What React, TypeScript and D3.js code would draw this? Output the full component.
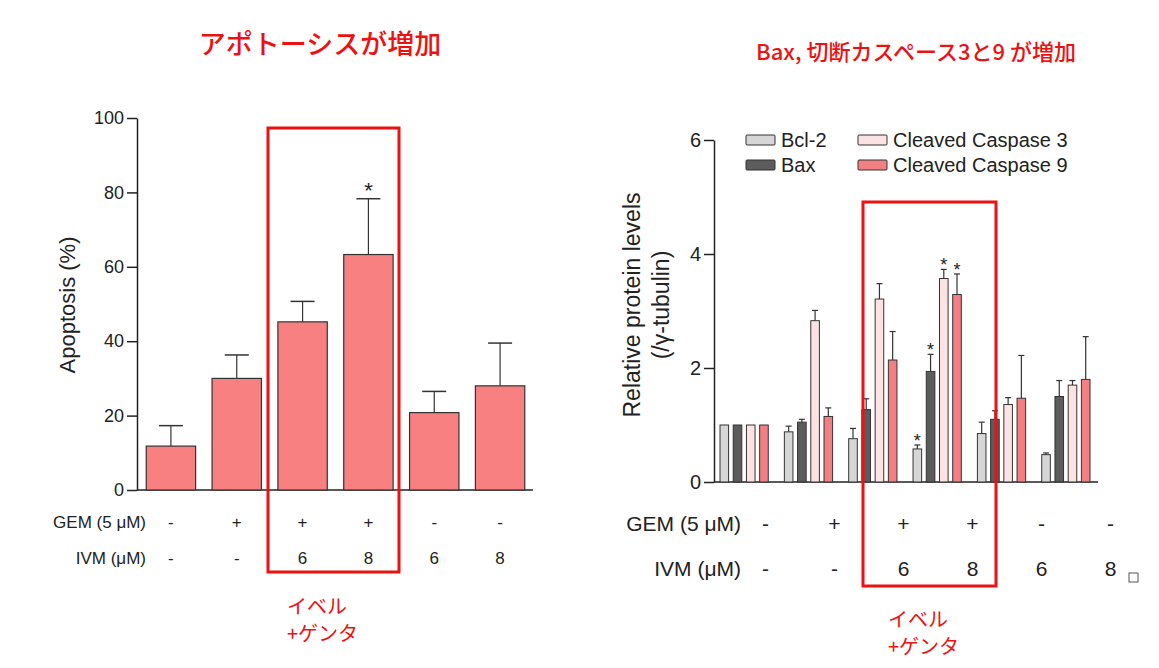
import { useEffect, useRef } from 'react';
import * as d3 from 'd3';

// Left panel: apoptosis
const apoGroups = ['g1', 'g2', 'g3', 'g4', 'g5', 'g6'];
const apoValues = [11.8, 30, 45.2, 63.3, 20.8, 28];
const apoErrors = [5.5, 6.3, 5.5, 15, 5.7, 11.5];
const apoStars = [false, false, false, true, false, false];
const gemLabels = ['-', '+', '+', '+', '-', '-'];
const ivmLabels = ['-', '-', '6', '8', '6', '8'];

// Right panel: protein levels
const proteins = ['Bcl-2', 'Bax', 'Cleaved Caspase 3', 'Cleaved Caspase 9'];
const proteinColors = ['#d6d6d6', '#5c5c5c', '#fde2e4', '#f27f82'];
const bcl2 = [1, 0.88, 0.76, 0.58, 0.85, 0.48];
const bax = [1, 1.05, 1.27, 1.94, 1.1, 1.5];
const cc3 = [1, 2.83, 3.21, 3.57, 1.36, 1.7];
const cc9 = [1, 1.15, 2.14, 3.29, 1.47, 1.8];
const bcl2Err = [0, 0.1, 0.18, 0.07, 0.2, 0.03];
const baxErr = [0, 0.05, 0.19, 0.3, 0.15, 0.28];
const cc3Err = [0, 0.18, 0.27, 0.16, 0.12, 0.08];
const cc9Err = [0, 0.15, 0.5, 0.36, 0.75, 0.75];
const proteinStars = [
    [false, false, false, true, false, false],
    [false, false, false, true, false, false],
    [false, false, false, true, false, false],
    [false, false, false, true, false, false],
];

const FONT = 'Liberation Sans, Arial, sans-serif';
const JP = '"Noto Sans CJK JP", sans-serif';

export default function App() {
    const svgRef = useRef<SVGSVGElement>(null);

    useEffect(() => {
        if (!svgRef.current) return;
        const svg = d3.select(svgRef.current);
        svg.selectAll('*').remove();

        // ---------- Left chart ----------
        const ly = d3.scaleLinear().domain([0, 100]).range([490, 118]);
        const lx = d3.scaleBand().domain(apoGroups).range([138, 533]).paddingInner(0.25).paddingOuter(0.125);
        const left = svg.append('g');

        const lAxis = left.append('g').attr('transform', 'translate(137,0)')
            .call(d3.axisLeft(ly).tickValues([0, 20, 40, 60, 80, 100]).tickSize(10).tickSizeOuter(0));
        lAxis.select('.domain').attr('stroke', '#222').attr('stroke-width', 1.5);
        lAxis.selectAll('line').attr('stroke', '#222').attr('stroke-width', 1.5);
        lAxis.selectAll('text').attr('font-size', 18).attr('font-family', FONT).attr('fill', '#222');
        left.append('line').attr('x1', 137).attr('x2', 533).attr('y1', 490).attr('y2', 490).attr('stroke', '#222').attr('stroke-width', 1.5);

        apoGroups.forEach((g, i) => {
            const x = lx(g)!;
            const w = lx.bandwidth();
            const cx = x + w / 2;
            left.append('line').attr('x1', cx).attr('x2', cx).attr('y1', ly(apoValues[i])).attr('y2', ly(apoValues[i] + apoErrors[i])).attr('stroke', '#333').attr('stroke-width', 1.2);
            left.append('line').attr('x1', cx - 12).attr('x2', cx + 12).attr('y1', ly(apoValues[i] + apoErrors[i])).attr('y2', ly(apoValues[i] + apoErrors[i])).attr('stroke', '#333').attr('stroke-width', 1.5);
            left.append('rect').attr('x', x).attr('y', ly(apoValues[i])).attr('width', w).attr('height', ly(0) - ly(apoValues[i]))
                .attr('fill', '#f88080').attr('stroke', '#333').attr('stroke-width', 1.2);
            if (apoStars[i]) {
                left.append('text').attr('x', cx).attr('y', ly(apoValues[i] + apoErrors[i]) - 1).attr('text-anchor', 'middle')
                    .attr('font-size', 22).attr('font-family', FONT).attr('fill', '#222').text('*');
            }
            left.append('text').attr('x', cx).attr('y', 528).attr('text-anchor', 'middle').attr('font-size', 17).attr('font-family', FONT).attr('fill', '#222').text(gemLabels[i]);
            left.append('text').attr('x', cx).attr('y', 564).attr('text-anchor', 'middle').attr('font-size', 17).attr('font-family', FONT).attr('fill', '#222').text(ivmLabels[i]);
        });
        left.append('text').attr('x', 146).attr('y', 528).attr('text-anchor', 'end').attr('font-size', 17).attr('font-family', FONT).attr('fill', '#222').text('GEM (5 μM)');
        left.append('text').attr('x', 146).attr('y', 564).attr('text-anchor', 'end').attr('font-size', 17).attr('font-family', FONT).attr('fill', '#222').text('IVM (μM)');
        left.append('text').attr('transform', 'translate(75,305) rotate(-90)').attr('text-anchor', 'middle').attr('font-size', 22).attr('font-family', FONT).attr('fill', '#222').text('Apoptosis (%)');

        // ---------- Right chart ----------
        const ry = d3.scaleLinear().domain([0, 6]).range([482, 140]);
        const rx = d3.scaleBand().domain(apoGroups).range([720, 1090]).paddingInner(0.25).paddingOuter(0);
        const rLabel = d3.scaleBand().domain(apoGroups).range([731, 1145]);
        const rInner = d3.scaleBand().domain(proteins).range([0, rx.bandwidth()]).paddingInner(0.35);
        const right = svg.append('g');

        const rAxis = right.append('g').attr('transform', 'translate(714,0)')
            .call(d3.axisLeft(ry).tickValues([0, 2, 4, 6]).tickFormat(d3.format('d')).tickSize(10).tickSizeOuter(0));
        rAxis.select('.domain').attr('stroke', '#222').attr('stroke-width', 1.5);
        rAxis.selectAll('line').attr('stroke', '#222').attr('stroke-width', 1.5);
        rAxis.selectAll('text').attr('font-size', 20).attr('font-family', FONT).attr('fill', '#222');
        right.append('line').attr('x1', 714).attr('x2', 1098).attr('y1', 482).attr('y2', 482).attr('stroke', '#222').attr('stroke-width', 1.5);

        const series = [bcl2, bax, cc3, cc9];
        const errs = [bcl2Err, baxErr, cc3Err, cc9Err];
        apoGroups.forEach((g, i) => {
            proteins.forEach((p, k) => {
                const x = rx(g)! + rInner(p)!;
                const w = rInner.bandwidth();
                const cx = x + w / 2;
                const v = series[k][i];
                const e = errs[k][i];
                if (e > 0) {
                    right.append('line').attr('x1', cx).attr('x2', cx).attr('y1', ry(v)).attr('y2', ry(v + e)).attr('stroke', '#333').attr('stroke-width', 1.2);
                    right.append('line').attr('x1', cx - 3).attr('x2', cx + 3).attr('y1', ry(v + e)).attr('y2', ry(v + e)).attr('stroke', '#333').attr('stroke-width', 1.2);
                }
                right.append('rect').attr('x', x).attr('y', ry(v)).attr('width', w).attr('height', ry(0) - ry(v))
                    .attr('fill', proteinColors[k]).attr('stroke', '#333').attr('stroke-width', 1);
                if (proteinStars[k][i]) {
                    right.append('text').attr('x', cx).attr('y', ry(v + e) + 2).attr('text-anchor', 'middle')
                        .attr('font-size', 18).attr('font-family', FONT).attr('fill', '#222').text('*');
                }
            });
            const gc = rLabel(g)! + rLabel.bandwidth() / 2;
            right.append('text').attr('x', gc).attr('y', 531).attr('text-anchor', 'middle').attr('font-size', 21).attr('font-family', FONT).attr('fill', '#222').text(gemLabels[i]);
            right.append('text').attr('x', gc).attr('y', 576).attr('text-anchor', 'middle').attr('font-size', 21).attr('font-family', FONT).attr('fill', '#222').text(ivmLabels[i]);
        });
        right.append('text').attr('x', 741).attr('y', 531).attr('text-anchor', 'end').attr('font-size', 21).attr('font-family', FONT).attr('fill', '#222').text('GEM (5 μM)');
        right.append('text').attr('x', 741).attr('y', 576).attr('text-anchor', 'end').attr('font-size', 21).attr('font-family', FONT).attr('fill', '#222').text('IVM (μM)');
        right.append('text').attr('transform', 'translate(640,305) rotate(-90)').attr('text-anchor', 'middle').attr('font-size', 23).attr('font-family', FONT).attr('fill', '#222').text('Relative protein levels');
        right.append('text').attr('transform', 'translate(669,305) rotate(-90)').attr('text-anchor', 'middle').attr('font-size', 23).attr('font-family', FONT).attr('fill', '#222').text('(/γ-tubulin)');

        // Legend
        const legendPos = [[746, 140], [746, 165], [858, 140], [858, 165]];
        proteins.forEach((p, k) => {
            const [lxp, lyp] = legendPos[k];
            right.append('rect').attr('x', lxp).attr('y', lyp - 5).attr('width', 29).attr('height', 10).attr('rx', 1)
                .attr('fill', proteinColors[k]).attr('stroke', '#333').attr('stroke-width', 1);
            right.append('text').attr('x', lxp + 35).attr('y', lyp + 7).attr('font-size', 20).attr('font-family', FONT).attr('fill', '#222').text(p);
        });
        // small corner icon
        right.append('rect').attr('x', 1129).attr('y', 573).attr('width', 9).attr('height', 9).attr('fill', 'none').attr('stroke', '#555').attr('stroke-width', 1);

        // ---------- Annotations ----------
        const red = '#ee1111';
        svg.append('rect').attr('x', 268).attr('y', 128).attr('width', 131).attr('height', 444).attr('fill', 'none').attr('stroke', red).attr('stroke-width', 3);
        svg.append('rect').attr('x', 863).attr('y', 202).attr('width', 133).attr('height', 384).attr('fill', 'none').attr('stroke', red).attr('stroke-width', 3);
        svg.append('text').attr('x', 320).attr('y', 54).attr('text-anchor', 'middle').attr('font-size', 27).attr('font-weight', 500).attr('font-family', JP).attr('fill', red).text('アポトーシスが増加');
        svg.append('text').attr('x', 916).attr('y', 60).attr('text-anchor', 'middle').attr('font-size', 22).attr('font-weight', 500).attr('font-family', JP).attr('fill', red).text('Bax, 切断カスペース3と9 が増加');
        svg.append('text').attr('x', 287).attr('y', 614).attr('font-size', 20).attr('font-family', JP).attr('fill', red).text('イベル');
        svg.append('text').attr('x', 287).attr('y', 641).attr('font-size', 20).attr('font-family', JP).attr('fill', red).text('+ゲンタ');
        svg.append('text').attr('x', 888).attr('y', 627).attr('font-size', 20).attr('font-family', JP).attr('fill', red).text('イベル');
        svg.append('text').attr('x', 888).attr('y', 654).attr('font-size', 20).attr('font-family', JP).attr('fill', red).text('+ゲンタ');
    }, []);

    return (
        <svg ref={svgRef} width={1159} height={668}
            style={{ position: 'absolute', left: 0, top: 0, background: '#fff' }} />
    );
}
